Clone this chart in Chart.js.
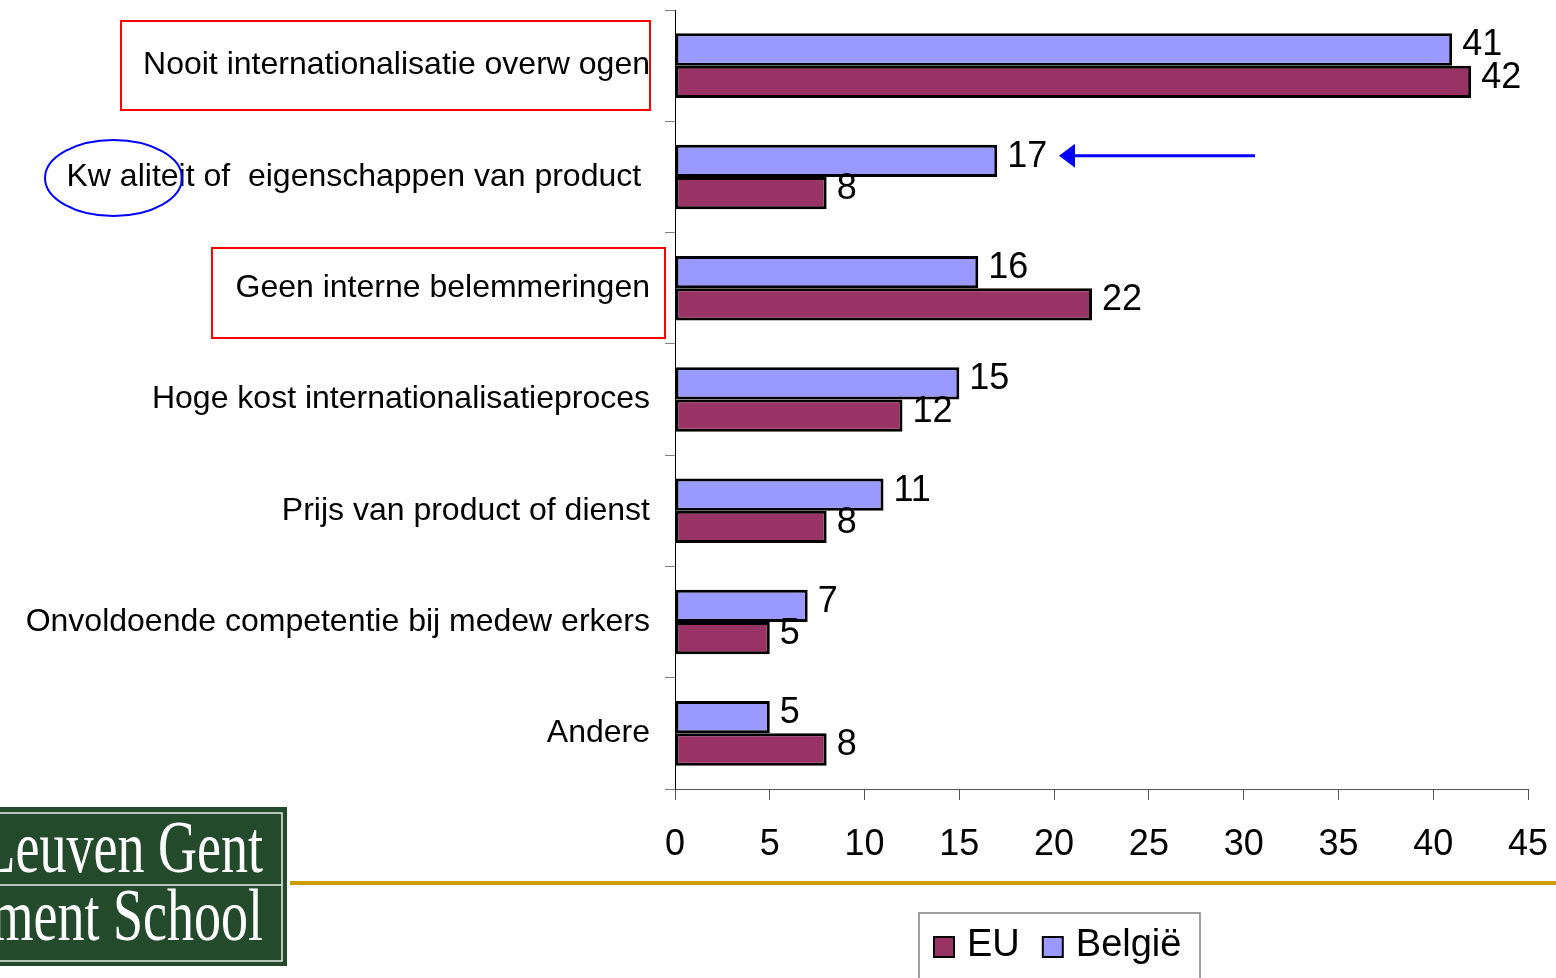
<!DOCTYPE html>
<html>
<head>
<meta charset="utf-8">
<script src="https://cdn.jsdelivr.net/npm/chart.js@4/dist/chart.umd.min.js"></script>
<style>
  html, body { margin: 0; padding: 0; background: #fff; }
  #wrap { width: 1556px; height: 978px; position: relative; }
</style>
</head>
<body>
<div id="wrap"><canvas id="chart"></canvas></div>
<script>
// categorieën (van boven naar onder)
const categories = [
  'Nooit internationalisatie overw ogen',
  'Kw aliteit of  eigenschappen van product ',
  'Geen interne belemmeringen',
  'Hoge kost internationalisatieproces',
  'Prijs van product of dienst',
  'Onvoldoende competentie bij medew erkers',
  'Andere'
];
const belgie = [41, 17, 16, 15, 11, 7, 5];
const eu = [42, 8, 22, 12, 8, 5, 8];
const xTicks = [0, 5, 10, 15, 20, 25, 30, 35, 40, 45];

const FONT = '"Liberation Sans", Arial, sans-serif';

// waarden naast de balken
const valueLabels = {
  id: 'valueLabels',
  afterDatasetsDraw(chart) {
    const ctx = chart.ctx;
    ctx.save();
    ctx.font = '36px ' + FONT;
    ctx.fillStyle = '#000';
    ctx.textBaseline = 'middle';
    ctx.textAlign = 'left';
    chart.data.datasets.forEach((ds, i) => {
      chart.getDatasetMeta(i).data.forEach((bar, j) => {
        ctx.fillText(ds.data[j], bar.x + 10, bar.y - 4);
      });
    });
    ctx.restore();
  }
};

// logo, lijn, kaders, pijl en legende
const extras = {
  id: 'extras',
  afterDraw(chart) {
    const ctx = chart.ctx;
    ctx.save();

    // rode kaders
    ctx.strokeStyle = '#ff0000';
    ctx.lineWidth = 2;
    ctx.strokeRect(121, 21, 529, 89);
    ctx.strokeRect(212, 248, 453, 90);

    // blauwe ellips
    ctx.strokeStyle = '#0000ff';
    ctx.beginPath();
    ctx.ellipse(113.5, 178, 68.5, 38, 0, 0, Math.PI * 2);
    ctx.stroke();

    // pijl naar 17
    const bar = chart.getDatasetMeta(0).data[1];
    const ay = bar.y - 5;
    ctx.strokeStyle = '#0000ff';
    ctx.fillStyle = '#0000ff';
    ctx.lineWidth = 3;
    ctx.beginPath();
    ctx.moveTo(1255, ay);
    ctx.lineTo(1072, ay);
    ctx.stroke();
    ctx.beginPath();
    ctx.moveTo(1059, ay);
    ctx.lineTo(1075, ay - 12);
    ctx.lineTo(1075, ay + 12);
    ctx.closePath();
    ctx.fill();

    // gouden lijn
    ctx.fillStyle = '#cc9c00';
    ctx.fillRect(290, 881, 1266, 4);

    // logo
    ctx.fillStyle = '#244a2c';
    ctx.fillRect(0, 807, 287, 159);
    ctx.strokeStyle = '#e8eee8';
    ctx.lineWidth = 1.5;
    ctx.strokeRect(-5, 813, 287, 148);
    ctx.beginPath();
    ctx.moveTo(0, 885);
    ctx.lineTo(282, 885);
    ctx.stroke();
    ctx.fillStyle = '#ffffff';
    ctx.textAlign = 'right';
    ctx.textBaseline = 'alphabetic';
    ctx.save();
    ctx.translate(263, 0);
    ctx.scale(0.73, 1);
    ctx.font = '74px "Liberation Serif", "Times New Roman", serif';
    ctx.fillText('Leuven Gent', 0, 872);
    ctx.fillText('ment School', 0, 940);
    ctx.restore();

    // legende (EU eerst)
    ctx.strokeStyle = '#808080';
    ctx.lineWidth = 1.5;
    ctx.strokeRect(919, 913, 281, 80);
    ctx.font = '38px ' + FONT;
    ctx.textAlign = 'left';
    ctx.textBaseline = 'middle';
    let x = 934;
    const items = chart.data.datasets.slice().reverse();
    items.forEach(ds => {
      ctx.fillStyle = ds.backgroundColor;
      ctx.fillRect(x, 937, 20, 20);
      ctx.strokeStyle = '#000';
      ctx.lineWidth = 2;
      ctx.strokeRect(x, 937, 20, 20);
      ctx.fillStyle = '#000';
      ctx.fillText(ds.label, x + 33, 946);
      x += 33 + ctx.measureText(ds.label).width + 23;
    });

    ctx.restore();
  }
};

new Chart(document.getElementById('chart'), {
  type: 'bar',
  data: {
    labels: categories,
    datasets: [
      {
        label: 'België',
        data: belgie,
        backgroundColor: '#9999ff',
        borderColor: '#000',
        borderWidth: 3,
        borderSkipped: false,
        categoryPercentage: 0.58,
        barPercentage: 1.0
      },
      {
        label: 'EU',
        data: eu,
        backgroundColor: '#993366',
        borderColor: '#000',
        borderWidth: 3,
        borderSkipped: false,
        categoryPercentage: 0.58,
        barPercentage: 1.0
      }
    ]
  },
  options: {
    indexAxis: 'y',
    responsive: true,
    maintainAspectRatio: false,
    animation: false,
    layout: { padding: { top: 10, right: 28, left: 0, bottom: 0 } },
    plugins: {
      legend: { display: false },
      tooltip: { enabled: false }
    },
    scales: {
      x: {
        min: 0,
        max: 45,
        afterBuildTicks: scale => { scale.ticks = xTicks.map(v => ({ value: v })); },
        afterFit: scale => {
          scale.height = 189;
          scale.paddingLeft = 0;
          scale.paddingRight = 0;
        },
        ticks: {
          color: '#000',
          font: { family: FONT, size: 36 },
          padding: 23,
          maxRotation: 0
        },
        grid: { drawOnChartArea: false, color: '#555', tickLength: 11, lineWidth: 1 },
        border: { color: '#555', width: 1 }
      },
      y: {
        afterFit: scale => {
          scale.width = 675;
          scale.paddingTop = 0;
          scale.paddingBottom = 0;
        },
        ticks: {
          color: '#000',
          font: { family: FONT, size: 32 },
          padding: 15,
          autoSkip: false
        },
        grid: { drawOnChartArea: false, color: '#808080', tickLength: 10, offset: true },
        border: { color: '#000', width: 1 }
      }
    }
  },
  plugins: [valueLabels, extras]
});
</script>
</body>
</html>
